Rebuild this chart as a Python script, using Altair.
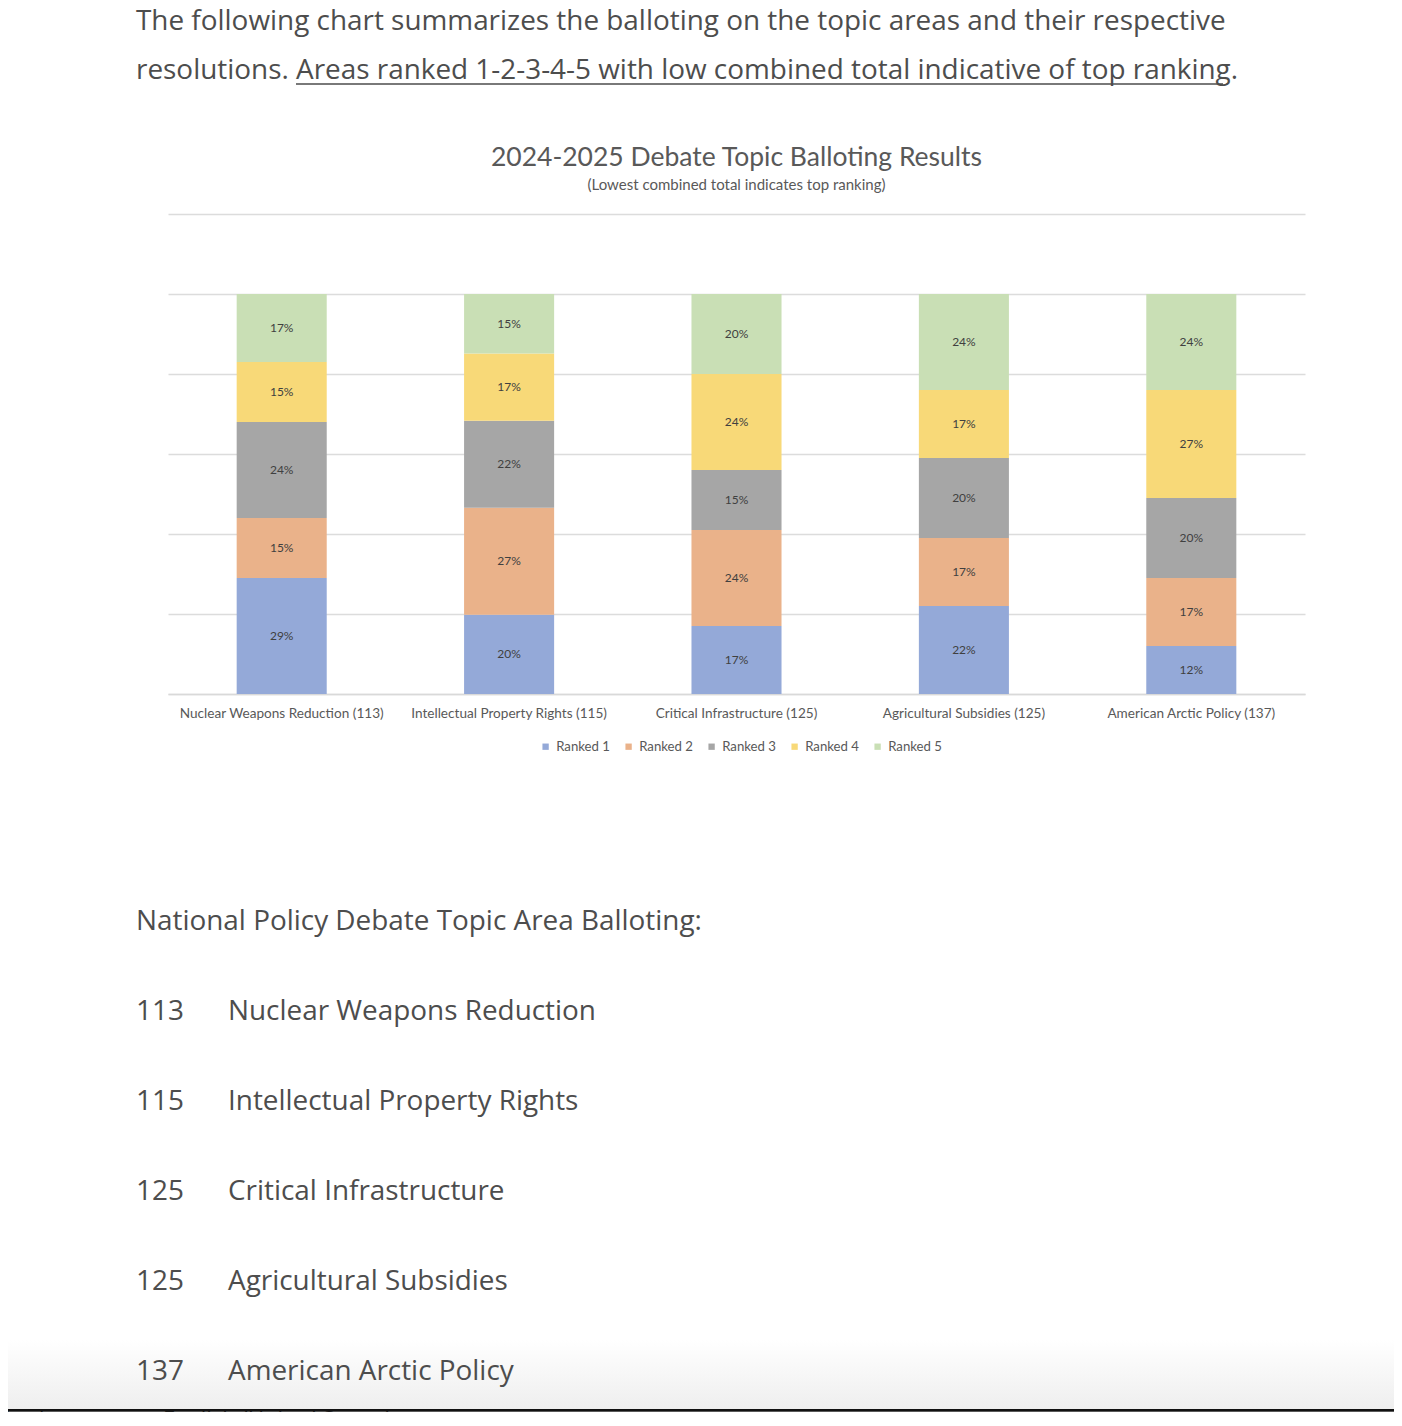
import altair as alt
import pandas as pd

# ---------------- data ----------------
topics = ["Nuclear Weapons Reduction (113)", "Intellectual Property Rights (115)",
          "Critical Infrastructure (125)", "Agricultural Subsidies (125)",
          "American Arctic Policy (137)"]
ranks = ["Ranked 1", "Ranked 2", "Ranked 3", "Ranked 4", "Ranked 5"]
ranked1 = [29, 20, 17, 22, 12]
ranked2 = [15, 27, 24, 17, 17]
ranked3 = [24, 22, 15, 20, 20]
ranked4 = [15, 17, 24, 17, 27]
ranked5 = [17, 15, 20, 24, 24]
colors = ["#94a9d8", "#eab28a", "#a6a6a6", "#f8d978", "#c9dfb5"]

list_numbers = ["113", "115", "125", "125", "137"]
list_names = ["Nuclear Weapons Reduction", "Intellectual Property Rights",
              "Critical Infrastructure", "Agricultural Subsidies", "American Arctic Policy"]

para1 = "The following chart summarizes the balloting on the topic areas and their respective"
para2a = "resolutions."
para2b = "Areas ranked 1-2-3-4-5 with low combined total indicative of top ranking."
chart_title = "2024-2025 Debate Topic Balloting Results"
chart_subtitle = "(Lowest combined total indicates top ranking)"
section_head = "National Policy Debate Topic Area Balloting:"

rows = []
for ti, t in enumerate(topics):
    for ri, (r, vals) in enumerate(zip(ranks, [ranked1, ranked2, ranked3, ranked4, ranked5])):
        rows.append({"topic": t, "rank": r, "order": ri, "value": vals[ti]})
df = pd.DataFrame(rows)

TEXT = "#4d4d4d"
BODY_FONT = "Open Sans"
BODY_SIZE = 27.9
CH_FONT = "Lato"

base = alt.Chart(df).transform_stack(
    stack="value", as_=["v0", "v1"], groupby=["topic"], offset="normalize",
    sort=[alt.SortField("order", order="ascending")]
).transform_calculate(mid="(datum.v0 + datum.v1) / 2", label="datum.value + '%'")

xenc = alt.X("topic:N", sort=topics,
             scale=alt.Scale(paddingInner=0.604, paddingOuter=0.302),
             axis=alt.Axis(title=None, labelAngle=0, labelFontSize=13.6, labelFont=CH_FONT,
                           labelColor="#595959", ticks=False, domainColor="#d9d9d9",
                           domainWidth=1.5, labelPadding=12, grid=False, labelLimit=400))

bars = base.mark_bar().encode(
    x=xenc,
    y=alt.Y("v0:Q", scale=alt.Scale(domain=[0, 1.2], nice=False),
            axis=alt.Axis(values=[0, 0.2, 0.4, 0.6, 0.8, 1.0, 1.2], labels=False, ticks=False,
                          domain=False, title=None, gridColor="#dcdcdc", gridWidth=1.5)),
    y2="v1:Q",
    color=alt.Color("rank:N", scale=alt.Scale(domain=ranks, range=colors),
                    legend=alt.Legend(title=None, orient="none", direction="horizontal",
                                      legendX=371, legendY=526, symbolType="square",
                                      symbolSize=40, symbolStrokeWidth=0, labelFont=CH_FONT,
                                      labelFontSize=13.2, labelColor="#595959",
                                      columnPadding=12, labelOffset=4)),
)

labels = base.mark_text(font=CH_FONT, fontSize=12, color="#404040").encode(
    x=alt.X("topic:N", sort=topics),
    y=alt.Y("mid:Q", scale=alt.Scale(domain=[0, 1.2], nice=False), axis=None),
    text="label:N",
)


def txt(s, x, y, size=BODY_SIZE, font=BODY_FONT, color=TEXT, align="left",
        baseline="middle"):
    return alt.Chart(pd.DataFrame({"t": [s]})).mark_text(
        font=font, fontSize=size, color=color, align=align, baseline=baseline
    ).encode(x=alt.value(x), y=alt.value(y), text="t:N")


doc_layers = [
    txt(para1, -32, -184, baseline="alphabetic"),
    txt(para2a, -32, -135, baseline="alphabetic"),
    txt(para2b, 128, -135, baseline="alphabetic"),
    alt.Chart(pd.DataFrame({"a": [0]})).mark_rule(color=TEXT, strokeWidth=1.5).encode(
        x=alt.value(128), x2=alt.value(1055), y=alt.value(-130)),
    txt(chart_title, 568.5, -56, size=26.5, font=CH_FONT, color="#595959", align="center"),
    txt(chart_subtitle, 568.5, -29, size=15, font=CH_FONT, color="#595959", align="center"),
    txt(section_head, -32, 708),
]

list_df = pd.DataFrame({"num": list_numbers, "name": list_names, "idx": list(range(5))})
list_y = alt.Y("idx:O", scale=alt.Scale(range=[798, 1158], padding=0), axis=None)
list_nums = alt.Chart(list_df).mark_text(font=BODY_FONT, fontSize=BODY_SIZE, color=TEXT,
                                         align="left", baseline="middle").encode(
    x=alt.value(-32), y=list_y, text="num:N")
list_names_l = alt.Chart(list_df).mark_text(font=BODY_FONT, fontSize=BODY_SIZE, color=TEXT,
                                            align="left", baseline="middle").encode(
    x=alt.value(60), y=list_y, text="name:N")

fade = alt.Chart(pd.DataFrame({"a": [0]})).mark_rect(
    color=alt.LinearGradient(gradient="linear", x1=0, x2=0, y1=0, y2=1,
                             stops=[alt.GradientStop(color="#ffffff", offset=0),
                                    alt.GradientStop(color="#eeeeee", offset=1)])
).encode(x=alt.value(-168), x2=alt.value(1234), y=alt.value(1126), y2=alt.value(1196))

status = alt.Chart(pd.DataFrame({"a": [0]})).mark_rect(color="#5a5a5a").encode(
    x=alt.value(-168), x2=alt.value(1234), y=alt.value(1196), y2=alt.value(1214))
status_line = alt.Chart(pd.DataFrame({"a": [0]})).mark_rule(color="#111111", strokeWidth=2).encode(
    x=alt.value(-168), x2=alt.value(1234), y=alt.value(1196))

chart = alt.layer(
    bars, labels, *doc_layers, fade, list_nums, list_names_l, status, status_line,
    txt("Words", -113, 1206, size=22, color="#1e1e1e", align="right"),
    txt("English (United States)", -5, 1206, size=22, color="#1e1e1e"),
).resolve_scale(y="independent").properties(
    width=1137, height=480,
    padding={"left": 160, "top": 206, "right": 89, "bottom": 718},
    autosize=alt.AutoSizeParams(type="none"),
    background="#ffffff",
).configure_view(stroke=None)

chart.save("out.html", embed_options={"renderer": "svg", "actions": False})
